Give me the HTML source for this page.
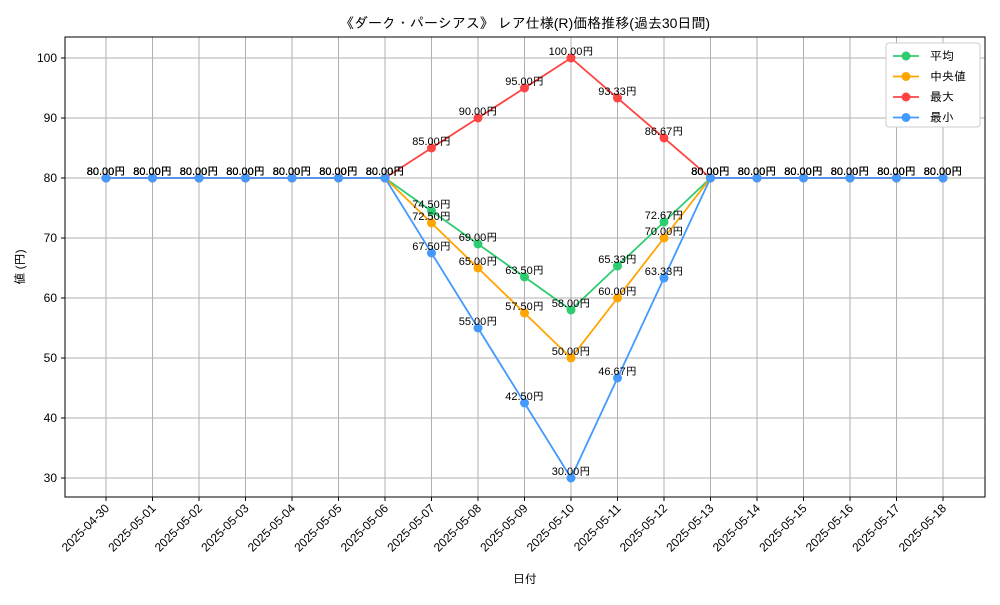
<!DOCTYPE html>
<html><head><meta charset="utf-8"><style>
body{margin:0;background:#fff;}
svg text{font-family:"Liberation Sans","IPAGothic","Noto Sans CJK JP",sans-serif;fill:#000;}
</style></head><body>
<svg id="chart" width="1000" height="600" xmlns="http://www.w3.org/2000/svg">
<rect width="1000" height="600" fill="#fff"/>
<text x="525" y="28" font-size="14" text-anchor="middle">《ダーク・パーシアス》 レア仕様(R)価格推移(過去30日間)</text>
<g id="grid"></g>
<rect x="65" y="37" width="920" height="460" fill="none" stroke="#000" stroke-width="1"/>
<g id="ticks"></g>
<g id="series"></g>
<g id="labels"></g>
<text x="525" y="583" font-size="12" text-anchor="middle">日付</text>
<text x="0" y="0" font-size="12" text-anchor="middle" transform="translate(24,267) rotate(-90)">値 (円)</text>
<g id="legend"></g>
</svg>
<script>
const dates=["2025-04-30","2025-05-01","2025-05-02","2025-05-03","2025-05-04","2025-05-05","2025-05-06","2025-05-07","2025-05-08","2025-05-09","2025-05-10","2025-05-11","2025-05-12","2025-05-13","2025-05-14","2025-05-15","2025-05-16","2025-05-17","2025-05-18"];
const avgValues=[80,80,80,80,80,80,80,74.5,69,63.5,58,65.33,72.67,80,80,80,80,80,80];
const medianValues=[80,80,80,80,80,80,80,72.5,65,57.5,50,60,70,80,80,80,80,80,80];
const maxValues=[80,80,80,80,80,80,80,85,90,95,100,93.33,86.67,80,80,80,80,80,80];
const minValues=[80,80,80,80,80,80,80,67.5,55,42.5,30,46.67,63.33,80,80,80,80,80,80];
const yTicks=[30,40,50,60,70,80,90,100];
const seriesNames=["平均","中央値","最大","最小"];
const NS="http://www.w3.org/2000/svg";
const xs=i=>106+i*(943-106)/(dates.length-1);
const ys=v=>478-(v-30)*6;
function mk(tag,attrs,parent){const e=document.createElementNS(NS,tag);for(const k in attrs)e.setAttribute(k,attrs[k]);parent.appendChild(e);return e;}
const grid=document.getElementById('grid'),ticks=document.getElementById('ticks');
dates.forEach((d,i)=>{
 const x=xs(i);
 const g=mk('line',{x1:x,x2:x,y1:37,y2:497,stroke:'#b0b0b0','stroke-width':1},grid);
 
 
 mk('line',{x1:x,x2:x,y1:497,y2:501,stroke:'#000'},ticks);
 const t=mk('text',{x:0,y:0,'font-size':12,'text-anchor':'end',transform:`translate(${x+4},${509}) rotate(-45)`},ticks);
 
 
 t.textContent=d;
});
yTicks.forEach(v=>{
 const y=ys(v);
 const g=mk('line',{x1:65,x2:985,y1:y,y2:y,stroke:'#b0b0b0','stroke-width':1},grid);
 
 
 mk('line',{x1:61,x2:65,y1:y,y2:y,stroke:'#000'},ticks);
 const t=mk('text',{x:57,y:y+4,'font-size':12,'text-anchor':'end'},ticks);
 
 
 t.textContent=v;
});
const series=[[avgValues,'#2ecc71','avg'],[medianValues,'#ffa500','median'],[maxValues,'#ff4444','max'],[minValues,'#4499ff','min']];
const sg=document.getElementById('series'),lg=document.getElementById('labels');
series.forEach(([vals,col,key])=>{
 const p=mk('polyline',{points:vals.map((v,i)=>xs(i)+','+ys(v)).join(' '),fill:'none',stroke:col,'stroke-width':1.8},sg);
 
 
 vals.forEach((v,i)=>{
  const c=mk('circle',{cx:xs(i),cy:ys(v),r:4.5,fill:col},sg);
  
  
  const t=mk('text',{x:xs(i),y:ys(v)-3,'font-size':11,'text-anchor':'middle'},lg);
  
  
  t.textContent=v.toFixed(2)+'円';
 });
});
const leg=document.getElementById('legend');
mk('rect',{x:886,y:43,width:94,height:84,fill:'#fff',stroke:'#ccc',rx:3},leg);
series.forEach(([v,col,key],i)=>{
 const y=56+i*20.5;
 mk('line',{x1:893,x2:919,y1:y,y2:y,stroke:col,'stroke-width':1.8},leg);
 mk('circle',{cx:906,cy:y,r:4.5,fill:col},leg);
 const t=mk('text',{x:930,y:y+4,'font-size':12},leg);
 
 
 t.textContent=seriesNames[i];
});
</script>
</body></html>
